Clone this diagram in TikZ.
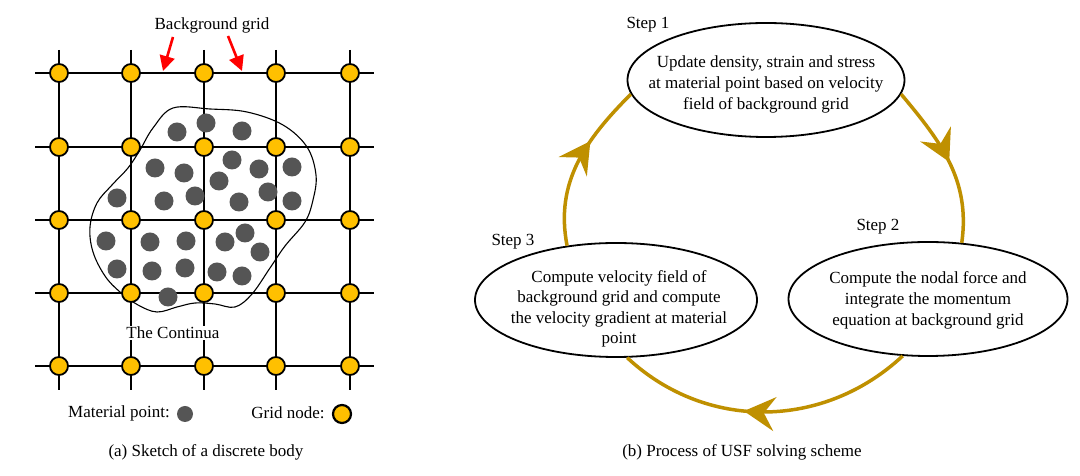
\documentclass[tikz,border=0pt]{standalone}
\usepackage{fontspec}
\setmainfont{Liberation Serif}
\usetikzlibrary{arrows.meta,shapes.geometric,decorations.markings}
\definecolor{gnodefill}{RGB}{255,192,0}
\definecolor{mpfill}{RGB}{85,85,85}
\definecolor{cycgold}{RGB}{191,144,0}
\begin{document}
\begin{tikzpicture}[x=1pt,y=1pt,
  every node/.style={font=\fontsize{17}{21}\selectfont},
  gridline/.style={line width=2.6pt, black},
  gnode/.style={circle, draw=black, line width=1.8pt, fill=gnodefill, minimum size=18pt, inner sep=0pt},
  mpoint/.style={circle, fill=mpfill, minimum size=19pt, inner sep=0pt},
  blob/.style={line width=1.1pt, black},
  redarrow/.style={red, line width=2.6pt, -{Triangle[length=15pt,width=15pt]}},
  stepell/.style={ellipse, draw=black, line width=1.8pt, fill=white, inner sep=0pt, minimum height=114pt},
  steptext/.style={align=center, inner sep=0pt},
  cyclearrow/.style={cycgold, line width=3.5pt, postaction=decorate,
    decoration={markings, mark=at position #1 with {\arrow{Stealth[length=31pt,width=34pt,inset=11pt]}}}},
  lbl/.style={inner sep=1pt}
]
\useasboundingbox (0,0) rectangle (1080,476);
\fill[white] (0,0) rectangle (1080,476);

% ---------- (a) grid ----------
\foreach \Y [count=\j] in {403,329,256,183,110} {
  \coordinate (hl\j) at (35,\Y); \coordinate (hr\j) at (374,\Y);
  \draw[gridline] (hl\j) -- (hr\j);
}
\foreach \X [count=\i] in {59,131,204,276,350} {
  \coordinate (vt\i) at (\X,426); \coordinate (vb\i) at (\X,86);
  \draw[gridline] (vt\i) -- (vb\i);
}

% continua outline
\draw[blob] plot[smooth cycle, tension=0.6] coordinates {
 (173,368) (210,367) (247,364) (283,351) (307,329) (316,301) (313,276) (305,254)
 (285,230) (270,208) (252,182) (235,169) (215,172) (195,173) (177,169) (157,164)
 (138,171) (120,184) (105,200) (93,224) (90,249) (97,273) (112,291) (128,308)
 (140,326) (153,348)};

% material points
\foreach \p [count=\k] in {{177,344},{206,353},{242,345},{155,308},{184,303},{232,316},
  {259,307},{292,309},{219,295},{268,284},{117,278},{164,275},{195,280},{239,274},
  {292,275},{106,235},{150,234},{186,235},{225,234},{245,243},{260,224},{117,207},
  {152,205},{185,208},{217,204},{242,200},{168,179}} {
  \node[mpoint] (m\k) at (\p) {};
}

% grid nodes
\foreach \X [count=\i] in {59,131,204,276,350} {
  \foreach \Y [count=\j] in {403,329,256,183,110} {
    \node[gnode] (g\i\j) at (\X,\Y) {};
  }
}

% labels (a)
\node[lbl] (bg) at (212,451) {Background grid};
\coordinate (ra1s) at (173,439); \coordinate (ra1e) at (163,405);
\coordinate (ra2s) at (228,440); \coordinate (ra2e) at (242,405);
\draw[redarrow] (ra1s) -- (ra1e);
\draw[redarrow] (ra2s) -- (ra2e);
\node[lbl, fill=white] (cont) at (173,143) {The Continua};
\node[lbl] (mplbl) at (119,63) {Material point:};
\node[mpoint, minimum size=16pt] (mpleg) at (185,62) {};
\node[lbl] (gnlbl) at (288,63) {Grid node:};
\node[gnode, minimum size=18pt, line width=2.2pt] (gnleg) at (342,62) {};
\node[lbl] (capa) at (206,24) {(a) Sketch of a discrete body};

% ---------- (b) cycle ----------
\node[stepell, minimum width=277pt] (e1) at (766,396) {};
\node[stepell, minimum width=279pt] (e2) at (928,177) {};
\node[stepell, minimum width=282pt] (e3) at (616,176) {};

\node[steptext] (t1) at (766,392) {Update density, strain and stress\\at material point based on velocity\\field of background grid};
\node[steptext] (t2) at (928,176) {Compute the nodal force and\\integrate the momentum\\equation at background grid};
\node[steptext, font=\fontsize{17}{20.5}\selectfont] (t3) at (619,167) {Compute velocity field of\\background grid and compute\\the velocity gradient at material\\point};

\node[lbl] (s1) at (648,451) {Step 1};
\node[lbl] (s2) at (878,249) {Step 2};
\node[lbl] (s3) at (513,234) {Step 3};

\draw[cyclearrow=0.5] (e1.-6) to[out=-50, in=82] (e2.59);
\draw[cyclearrow=0.57] (e2.-114) to[out=-137, in=-43] (e3.-79);
\draw[cyclearrow=0.64] (e3.132) to[out=101, in=225] (e1.186);

\node[lbl] (capb) at (742,24) {(b) Process of USF solving scheme};
\end{tikzpicture}
\end{document}
